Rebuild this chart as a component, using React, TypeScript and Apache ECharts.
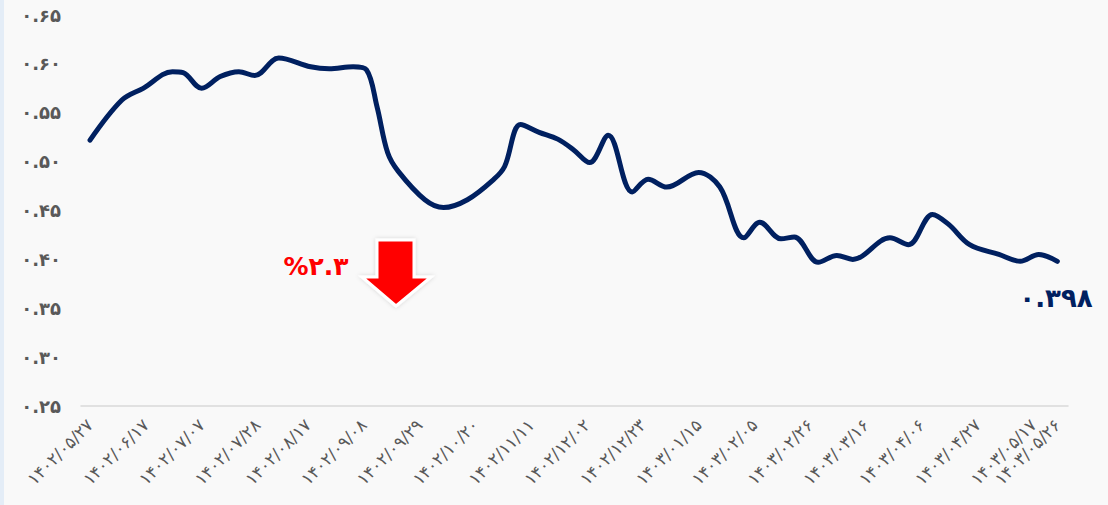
import React, { useEffect, useRef } from "react";
import * as echarts from "echarts";

// Day offsets from 1402/05/27 and line values
const dayOffsets = [
  0, 12, 20, 31, 35, 42, 49, 56, 62, 71, 83, 90, 99, 104, 108, 112, 116, 126, 133, 142,
  152, 156, 162, 169, 176, 182, 188, 195, 204, 210, 217, 229, 237, 246, 252, 260, 265,
  274, 281, 287, 301, 308, 317, 323, 331, 342, 350, 357, 364,
];
const values = [
  0.522, 0.563, 0.575, 0.592, 0.591, 0.575, 0.587, 0.592, 0.588, 0.606, 0.597, 0.595,
  0.597, 0.594, 0.556, 0.509, 0.49, 0.461, 0.453, 0.461, 0.482, 0.495, 0.538, 0.53,
  0.523, 0.512, 0.499, 0.527, 0.469, 0.482, 0.474, 0.489, 0.474, 0.422, 0.438, 0.421,
  0.423, 0.397, 0.404, 0.4, 0.422, 0.415, 0.446, 0.436, 0.415, 0.405, 0.398, 0.405, 0.398,
];

const tickDays = [0, 21, 42, 63, 82, 103, 124, 145, 166, 187, 208, 229, 250, 271, 292, 313, 334, 355, 364];
const tickLabels = [
  "۱۴۰۲/۰۵/۲۷", "۱۴۰۲/۰۶/۱۷", "۱۴۰۲/۰۷/۰۷", "۱۴۰۲/۰۷/۲۸", "۱۴۰۲/۰۸/۱۷", "۱۴۰۲/۰۹/۰۸",
  "۱۴۰۲/۰۹/۲۹", "۱۴۰۲/۱۰/۲۰", "۱۴۰۲/۱۱/۱۱", "۱۴۰۲/۱۲/۰۲", "۱۴۰۲/۱۲/۲۳", "۱۴۰۳/۰۱/۱۵",
  "۱۴۰۳/۰۲/۰۵", "۱۴۰۳/۰۲/۲۶", "۱۴۰۳/۰۳/۱۶", "۱۴۰۳/۰۴/۰۶", "۱۴۰۳/۰۴/۲۷", "۱۴۰۳/۰۵/۱۷",
  "۱۴۰۳/۰۵/۲۶",
];

const lastValueLabel = "۰.۳۹۸";
const changeLabel = "%۲.۳";

const faDigits = "۰۱۲۳۴۵۶۷۸۹";
const toFa = (s: string) => s.replace(/[0-9]/g, (d) => faDigits[+d]);

export default function App() {
  const ref = useRef<HTMLDivElement>(null);

  useEffect(() => {
    if (!ref.current) return;
    const chart = echarts.init(ref.current, null, { renderer: "svg" });
    chart.setOption({
      animation: false,
      backgroundColor: "#f9f9f9",
      grid: { left: 81, right: 40, top: 15, bottom: 99, containLabel: false },
      xAxis: {
        type: "value",
        min: -3.4,
        max: 368,
        axisLine: { show: true, lineStyle: { color: "#d9d9d9", width: 1.5 } },
        axisTick: { show: false },
        splitLine: { show: false },
        axisLabel: {
          customValues: tickDays,
          rotate: 45,
          margin: 16,
          hideOverlap: false,
          showMinLabel: true,
          showMaxLabel: true,
          color: "#595959",
          fontSize: 17,
          fontFamily: "DejaVu Sans",
          formatter: (v: number) => {
            const i = tickDays.indexOf(Math.round(v));
            return i >= 0 ? tickLabels[i] : "";
          },
        },
      },
      yAxis: {
        type: "value",
        min: 0.25,
        max: 0.65,
        interval: 0.05,
        axisLine: { show: false },
        axisTick: { show: false },
        splitLine: { show: false },
        axisLabel: {
          margin: 20,
          color: "#595959",
          fontSize: 18,
          fontWeight: "bold",
          fontFamily: "DejaVu Sans",
          formatter: (v: number) => toFa(v.toFixed(2)),
        },
      },
      series: [
        {
          type: "line",
          data: dayOffsets.map((d, i) => [d, values[i]]),
          smooth: 0.35,
          symbol: "none",
          lineStyle: { color: "#002060", width: 5, cap: "round" },
        },
      ],
      graphic: [
        { type: "rect", left: 0, top: 0, shape: { width: 4, height: 505 }, style: { fill: "#e4edf7" } },
        {
          type: "text",
          x: 1056,
          y: 298,
          style: {
            text: lastValueLabel,
            fill: "#002060",
            font: "bold 26px 'DejaVu Sans'",
            align: "center",
            verticalAlign: "middle",
          },
        },
        {
          type: "text",
          x: 316,
          y: 266,
          style: {
            text: changeLabel,
            fill: "#ff0000",
            font: "bold 25px 'DejaVu Sans'",
            align: "center",
            verticalAlign: "middle",
          },
        },
        {
          type: "polygon",
          shape: {
            points: [
              [377, 240], [414, 240], [414, 277], [431, 277], [396, 306], [362, 277], [377, 277],
            ],
          },
          style: { fill: "#ff0000", stroke: "#ffffff", lineWidth: 3, shadowBlur: 4, shadowColor: "rgba(0,0,0,0.15)" },
        },
      ],
    });
    return () => chart.dispose();
  }, []);

  return (
    <div
      ref={ref}
      style={{ position: "fixed", left: 0, top: 0, width: 1108, height: 505 }}
    />
  );
}
